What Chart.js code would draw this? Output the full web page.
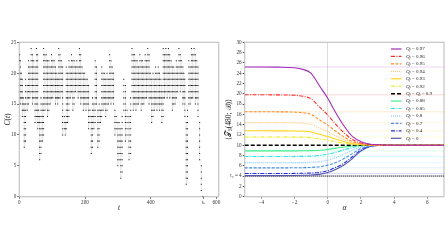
<!DOCTYPE html>
<html>
<head>
<meta charset="utf-8">
<script src="https://cdn.jsdelivr.net/npm/chart.js@4"></script>
<style>
  html, body { margin: 0; padding: 0; background: #fff; }
  #wrap { position: relative; width: 448px; height: 252px; }
  canvas { position: absolute; top: 0; }
</style>
</head>
<body>
<div id="wrap">
  <canvas id="left" width="224" height="252" style="left:0"></canvas>
  <canvas id="right" width="224" height="252" style="left:224px"></canvas>
</div>
<script>
// ---- left panel: C(t) ----
const tTicks = [0, 200, 400, 560, 600];
const tS = 560;
const cTicks = [0, 5, 10, 15, 20, 25];

// one column of dots per time t
const colT = [1,3,6,9,12,15,19,24,28,32,
  36,40,44,48,52,56,59,62,66,70,
  74,78,82,86,90,94,98,102,106,110,
  114,117,120,124,128,132,137,140,143,147,
  151,155,159,163,167,171,175,179,183,187,
  191,195,199,203,207,211,215,219,223,227,
  231,235,239,243,247,251,255,259,263,267,
  271,275,279,283,287,291,295,300,304,309,
  313,318,323,328,334,339,343,347,351,355,
  359,363,367,371,375,379,383,387,391,395,
  399,403,407,411,415,419,423,427,431,434,
  438,442,446,450,454,458,462,466,470,474,
  478,482,486,490,494,498,501,504,508,512,
  516,520,524,528,532,536,540,544,549,554,
  559];

const colC = [
  [22,23],
  [22,21,20,19,18,17,16,15],
  [16,17,18,19,20],
  [19,18,17,16,15,14,13],
  [14,15,16],
  [15,14,13,12,11,10,9,8],
  [9,10,11,12,13,14,15,16,17,18,19],
  [18,17,16,15,14],
  [15,16,17,18,19,20,21,22],
  [21,20,19,18,17,16],
  [17,18,19,20,21,22,23,24],
  [23,22,21,20,19,18,17,16,15],
  [16,17,18,19,20,21,22],
  [21,20,19,18,17,16,15,14,13,12],
  [13,14,15,16,17,18,19,20,21,22,23,24],
  [23,22,21,20,19,18,17,16,15,14,13,12,11],
  [12,13,14],
  [13,12,11,10,9,8,7,6],
  [7,8,9,10,11,12,13,14,15,16],
  [15,14,13,12,11,10,9],
  [10,11,12,13,14,15,16,17,18,19,20,21,22,23,24],
  [23,22,21,20,19,18,17,16,15,14],
  [15,16,17,18,19,20,21,22,23],
  [22,21,20,19,18,17,16,15,14,13],
  [14,15,16,17,18,19,20,21,22],
  [21,20,19,18,17,16,15],
  [16,17,18,19,20,21,22,23],
  [22,21,20,19,18,17,16],
  [17,18,19,20,21,22],
  [21,20,19,18,17,16,15],
  [16,17,18,19,20],
  [19,18,17,16,15],
  [16,17,18,19,20,21,22,23,24],
  [23,22,21,20,19,18,17,16],
  [17,18,19,20,21,22],
  [21,20,19,18,17,16,15,14,13,12,11,10],
  [11,12,13],
  [12,11,10],
  [11,12,13,14,15,16,17,18,19,20,21],
  [20,19,18,17,16,15,14,13,12],
  [13,14,15,16,17,18,19,20,21,22],
  [21,20,19,18,17,16],
  [17,18,19,20,21,22,23],
  [22,21,20,19,18,17,16,15,14],
  [15,16,17,18,19,20,21,22],
  [21,20,19,18,17],
  [18,19,20,21,22],
  [21,20,19,18,17,16],
  [17,18,19,20,21,22,23,24],
  [23,22,21,20,19,18,17,16,15],
  [16,17,18,19,20,21],
  [20,19,18,17,16,15,14],
  [15,16,17,18,19,20],
  [19,18,17,16,15,14],
  [15,16,17,18,19],
  [18,17,16,15,14,13,12,11],
  [12,13,14],
  [13,12,11,10,9,8,7],
  [8,9,10,11,12,13,14,15,16],
  [15,14,13,12,11],
  [12,13,14,15,16,17,18,19,20,21,22],
  [21,20,19,18,17,16,15],
  [14,13,12,11,10,9,8],
  [9,10,11,12,13,14,15],
  [14,13,12],
  [13,14,15,16,17,18,19,20,21],
  [20,19,18,17,16,15,14],
  [15,16,17,18,19,20],
  [19,18,17,16,15,14,13],
  [14,15,16,17,18,19,20],
  [19,18,17,16,15],
  [16,17,18,19,20,21,22,23],
  [22,21,20,19,18,17,16,15],
  [16,17,18,19,20,21],
  [20,19,18,17,16,15],
  [14,13,12,11,10],
  [11,12,13],
  [12,11,10,9,8,7,6,5],
  [6,7,8,9,10,11,12],
  [11,10,9,8,7,6,5,4,3],
  [4,5,6,7,8,9,10,11,12,13],
  [14,15,16,17,18,19],
  [18,17,16,15,14,13,12,11,10,9],
  [10,11,12,13,14],
  [13,12,11,10,9,8,7,6],
  [7,8,9,10,11,12,13,14,15,16],
  [17,18,19,20,21,22,23,24],
  [23,22,21,20,19,18,17,16,15,14],
  [15,16,17,18,19,20,21,22,23],
  [22,21,20,19,18,17,16,15,14],
  [15,16,17,18,19,20,21,22],
  [21,20,19,18,17,16,15],
  [16,17,18,19,20,21,22,23],
  [22,21,20,19,18,17,16,15,14],
  [15,16,17,18,19,20,21,22],
  [21,20,19,18,17,16,15],
  [16,17,18,19,20,21,22,23],
  [22,21,20,19,18,17,16],
  [17,18,19,20,21,22,23,24],
  [23,22,21,20,19,18,17,16,15],
  [16,17,18,19,20],
  [19,18,17,16,15,14,13,12],
  [13,14,15,16,17,18,19,20],
  [19,18,17,16,15,14],
  [15,16,17,18,19,20,21],
  [20,19,18,17,16,15,14],
  [15,16,17,18,19,20,21],
  [20,19,18,17,16,15,14],
  [15,16,17,18,19],
  [18,17,16,15,14,13,12],
  [13,14,15,16,17,18,19,20,21,22,23,24],
  [23,22,21,20,19,18,17,16],
  [17,18,19,20,21,22,23,24],
  [23,22,21,20,19,18,17,16],
  [17,18,19,20,21,22,23,24],
  [23,22,21,20,19,18,17,16],
  [17,18,19,20,21,22],
  [21,20,19,18,17,16,15,14],
  [15,16,17,18,19,20,21],
  [20,19,18,17,16,15],
  [16,17,18,19,20,21,22],
  [21,20,19,18,17],
  [18,19,20,21,22,23,24],
  [23,22,21,20,19,18,17],
  [18,19,20,21,22],
  [21,20,19,18,17,16,15],
  [16,17,18,19,20],
  [19,18,17,16,15,14,13],
  [12,11,10,9,8,7,6,5,4,3,2],
  [3,4,5,6,7,8,9,10,11,12,13,14],
  [15,16,17,18,19,20,21,22],
  [21,20,19,18,17,16,15],
  [16,17,18,19,20,21,22,23,24],
  [23,22,21,20,19,18,17,16],
  [17,18,19,20,21,22,23,24],
  [23,22,21,20,19,18,17,16,15],
  [16,17,18,19,20,21,22],
  [21,20,19,18,17,16,15,14,13],
  [12,11,10,9,8,7,6],
  [5,4,3,2,1],
  [0]
];

// ---- right panel: <T_S(480; B)> vs alpha ----
const alpha = [-5, -4, -3, -2, -1.5, -1, -0.5, 0, 0.5, 1, 1.5, 2, 2.5, 3, 4, 5, 6, 7];
const alphaTicks = [-4, -2, 0, 2, 4, 6];
const t0 = 4;

const q097 = [25.2, 25.2, 25.17, 25.05, 24.74, 23.98, 21.55, 19.12, 16.23, 13.65, 11.67, 10.7, 10.23, 10.08, 10, 10, 10, 10];
const q096 = [19.8, 19.8, 19.78, 19.7, 19.51, 19.02, 17.45, 15.88, 14.02, 12.35, 11.08, 10.45, 10.15, 10.05, 10, 10, 10, 10];
const q095 = [16.5, 16.5, 16.49, 16.44, 16.31, 15.98, 14.94, 13.9, 12.67, 11.56, 10.72, 10.3, 10.1, 10.03, 10, 10, 10, 10];
const q094 = [14.4, 14.4, 14.39, 14.36, 14.27, 14.05, 13.34, 12.64, 11.8, 11.06, 10.48, 10.2, 10.07, 10.02, 10, 10, 10, 10];
const q093 = [12.8, 12.8, 12.79, 12.77, 12.72, 12.58, 12.13, 11.68, 11.15, 10.67, 10.31, 10.13, 10.04, 10.01, 10, 10, 10, 10];
const q092 = [11.6, 11.6, 11.6, 11.58, 11.55, 11.47, 11.22, 10.96, 10.66, 10.38, 10.18, 10.07, 10.02, 10.01, 10, 10, 10, 10];
const q090 = [10, 10, 10, 10, 10, 10, 10, 10, 10, 10, 10, 10, 10, 10, 10, 10, 10, 10];
const q088 = [8.9, 8.9, 8.9, 8.91, 8.92, 8.95, 9.03, 9.18, 9.43, 9.67, 9.85, 9.95, 9.99, 10, 10, 10, 10, 10];
const q085 = [7.8, 7.8, 7.8, 7.82, 7.84, 7.89, 8.02, 8.24, 8.64, 9.12, 9.56, 9.85, 9.96, 10, 10, 10, 10, 10];
const q080 = [6.6, 6.6, 6.6, 6.62, 6.63, 6.7, 6.84, 7.11, 7.62, 8.3, 9.05, 9.63, 9.9, 9.97, 10, 10, 10, 10];
const q070 = [5.6, 5.6, 5.6, 5.62, 5.64, 5.69, 5.82, 6.13, 6.66, 7.45, 8.42, 9.34, 9.82, 9.96, 10, 10, 10, 10];
const q040 = [4.5, 4.5, 4.5, 4.53, 4.56, 4.61, 4.72, 5.05, 5.71, 6.59, 7.8, 9.07, 9.73, 9.95, 10, 10, 10, 10];
const q000 = [4.1, 4.1, 4.1, 4.13, 4.16, 4.22, 4.34, 4.69, 5.34, 6.22, 7.46, 8.88, 9.71, 9.94, 10, 10, 10, 10];

const qLabels = ['0.97', '0.96', '0.95', '0.94', '0.93', '0.92', '0.9', '0.88', '0.85', '0.8', '0.7', '0.4', '0'];
const qSeries = [q097, q096, q095, q094, q093, q092, q090, q088, q085, q080, q070, q040, q000];

// styles
const qColors = ['#a22db6', '#ff2b2b', '#ff8c1f', '#ffc77d', '#ffd41c', '#ecec24', '#000000',
                 '#3ef08c', '#22e4e4', '#88c8ff', '#4a8ee6', '#2230e2', '#5656aa'];
const DD = [4, 1.4, 1, 1.4];
const qDash = [[], DD, [3, 1.5], [1, 1], [], DD, [4, 2], [], DD, [1, 1], [3, 1.5], DD, []];

const SERIF = "'Liberation Serif', 'DejaVu Serif', serif";
const tickFont = { family: SERIF, size: 5.2 };

function fade(hex, a) {
  const n = parseInt(hex.slice(1), 16);
  return `rgba(${n >> 16},${(n >> 8) & 255},${n & 255},${a})`;
}

// draws text made of parts, some italic and some subscript
function drawRich(ctx, parts, x, y, size, align) {
  const fontOf = p => `${p.it ? 'italic ' : ''}${p.sub ? size * 0.7 : size}px ${SERIF}`;
  let w = 0;
  parts.forEach(p => { ctx.font = fontOf(p); w += ctx.measureText(p.t).width; });
  let cx = align === 'center' ? x - w / 2 : x;
  ctx.textAlign = 'left';
  ctx.textBaseline = 'middle';
  parts.forEach(p => {
    ctx.font = fontOf(p);
    ctx.fillText(p.t, cx, y + (p.sub ? size * 0.28 : 0));
    cx += ctx.measureText(p.t).width;
  });
}

const framePlugin = {
  id: 'frame',
  beforeDatasetsDraw(chart) {
    const { ctx, chartArea: a } = chart;
    ctx.save();
    ctx.strokeStyle = '#c4c4c4';
    ctx.lineWidth = 1.2;
    ctx.strokeRect(a.left, a.top, a.right - a.left, a.bottom - a.top);
    ctx.restore();
  }
};

function titlesPlugin(xParts, yParts, yx) {
  return {
    id: 'titles',
    afterDraw(chart) {
      const { ctx, chartArea: a } = chart;
      ctx.save();
      ctx.fillStyle = '#222';
      drawRich(ctx, xParts, (a.left + a.right) / 2, a.bottom + 11.5, 7.5, 'center');
      ctx.translate(yx, (a.top + a.bottom) / 2);
      ctx.rotate(-Math.PI / 2);
      drawRich(ctx, yParts, 0, 0, 7.5, 'center');
      ctx.restore();
    }
  };
}

// ---- left chart ----
const dots = [];
colT.forEach((t, i) => colC[i].forEach(c => dots.push({ x: t, y: c })));

new Chart(document.getElementById('left'), {
  type: 'scatter',
  data: {
    datasets: [{
      data: dots,
      showLine: true,
      borderColor: 'rgba(0,0,0,0.09)',
      borderWidth: 0.5,
      pointStyle: 'rect',
      pointRadius: 0.72,
      pointBackgroundColor: '#141414',
      pointBorderWidth: 0
    }]
  },
  options: {
    responsive: false,
    animation: false,
    devicePixelRatio: 1,
    layout: { padding: { top: 42.3, right: 5.3, bottom: 43.3, left: 0 } },
    plugins: { legend: { display: false }, tooltip: { enabled: false } },
    scales: {
      x: {
        type: 'linear', min: 0, max: 607,
        afterBuildTicks: s => { s.ticks = tTicks.map(v => ({ value: v })); },
        afterFit: s => { s.height = 12; },
        ticks: {
          autoSkip: false, maxRotation: 0, padding: 1, color: '#333', font: tickFont,
          callback: v => (v === tS ? 'tₛ' : String(v))
        },
        grid: { drawOnChartArea: false, tickLength: 2, color: '#555' },
        border: { display: false }
      },
      y: {
        min: 0, max: 25,
        afterBuildTicks: s => { s.ticks = cTicks.map(v => ({ value: v })); },
        afterFit: s => { s.width = 19.3; },
        ticks: { padding: 1, color: '#333', font: tickFont },
        grid: { drawOnChartArea: false, tickLength: 2, color: '#555' },
        border: { display: false }
      }
    }
  },
  plugins: [framePlugin, titlesPlugin([{ t: 't', it: true }], [{ t: 'C', it: true }, { t: '(' }, { t: 't', it: true }, { t: ')' }], 8.5)]
});

// ---- right chart ----
const rightSets = [];
qSeries.forEach((s, i) => {
  rightSets.push({
    data: alpha.map((a, j) => ({ x: a, y: s[j] })),
    showLine: true,
    borderColor: qColors[i],
    borderDash: qDash[i],
    borderWidth: i === 6 ? 1.4 : 1.1,
    pointRadius: 0,
    cubicInterpolationMode: 'monotone',
    order: 1
  });
  if (i !== 6) {
    rightSets.push({
      data: [{ x: alpha[0], y: s[0] }, { x: alpha[alpha.length - 1], y: s[0] }],
      showLine: true,
      borderColor: fade(qColors[i], 0.3),
      borderWidth: 0.6,
      pointRadius: 0,
      order: 3
    });
  }
});
rightSets.push({
  data: [{ x: alpha[0], y: t0 }, { x: alpha[alpha.length - 1], y: t0 }],
  showLine: true,
  borderColor: '#222',
  borderDash: [1, 1],
  borderWidth: 1.1,
  pointRadius: 0,
  order: 2
});

const legendPlugin = {
  id: 'qlegend',
  afterDraw(chart) {
    const { ctx } = chart;
    ctx.save();
    qLabels.forEach((lab, i) => {
      const y = 49 + i * 7.44;
      ctx.strokeStyle = qColors[i];
      ctx.lineWidth = i === 6 ? 1.5 : 1.2;
      ctx.setLineDash(qDash[i]);
      ctx.beginPath();
      ctx.moveTo(167, y);
      ctx.lineTo(177.5, y);
      ctx.stroke();
      ctx.setLineDash([]);
      ctx.fillStyle = '#222';
      const parts = [{ t: 'Q', it: true }, { t: 'f', it: true, sub: true }, { t: ' = ' }];
      if (i === 6) parts.push({ t: 'Q', it: true }, { t: 't', it: true, sub: true }, { t: ' = ' });
      parts.push({ t: lab });
      drawRich(ctx, parts, 182, y, 5, 'left');
    });
    ctx.restore();
  }
};

new Chart(document.getElementById('right'), {
  type: 'scatter',
  data: { datasets: rightSets },
  options: {
    responsive: false,
    animation: false,
    devicePixelRatio: 1,
    layout: { padding: { top: 42.3, right: 4, bottom: 43.3, left: 0 } },
    plugins: { legend: { display: false }, tooltip: { enabled: false } },
    scales: {
      x: {
        type: 'linear', min: -5, max: 7,
        afterBuildTicks: s => { s.ticks = alphaTicks.map(v => ({ value: v })); },
        afterFit: s => { s.height = 12; },
        ticks: {
          autoSkip: false, maxRotation: 0, padding: 1, color: '#333', font: tickFont,
          callback: v => (v < 0 ? '−' + Math.abs(v) : String(v))
        },
        grid: {
          drawOnChartArea: true, tickLength: 2, tickColor: '#555', lineWidth: 0.7,
          color: c => (c.tick && c.tick.value === 0 ? '#cfcfcf' : 'rgba(0,0,0,0)')
        },
        border: { display: false }
      },
      y: {
        min: 0, max: 30,
        ticks: {
          stepSize: 2, padding: 1, color: '#333', font: tickFont,
          callback: v => (v === t0 ? 't₀ = 4' : String(v))
        },
        afterFit: s => { s.width = 20.7; },
        grid: { drawOnChartArea: false, tickLength: 2, color: '#555' },
        border: { display: false }
      }
    }
  },
  plugins: [framePlugin, legendPlugin,
    titlesPlugin([{ t: 'α', it: true }],
      [{ t: '⟨' }, { t: '𝒯' }, { t: 'S', sub: true }, { t: '(480; ' }, { t: 'ℬ' }, { t: ')⟩' }], 5)]
});
</script>
</body>
</html>
